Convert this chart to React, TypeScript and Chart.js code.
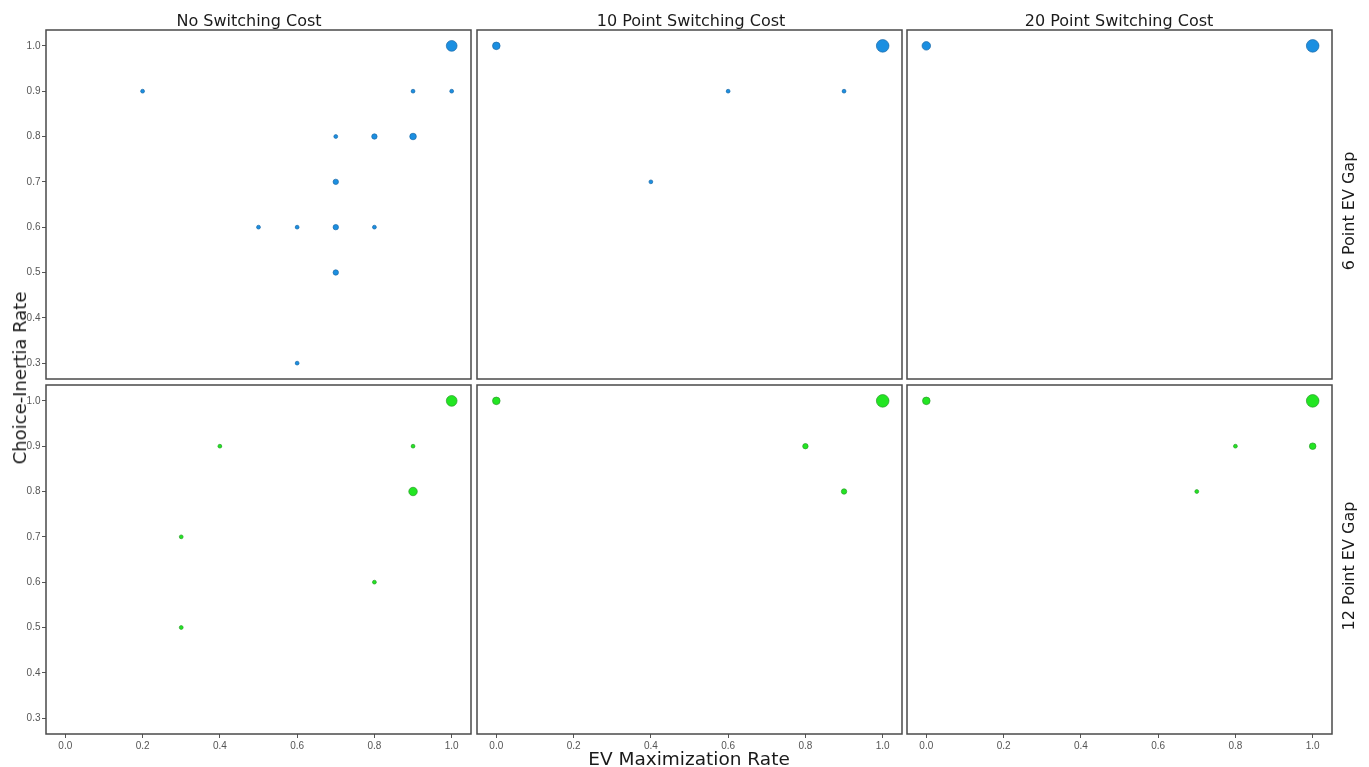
import React, { useEffect, useRef } from "react";
import { Chart, registerables } from "chart.js";

Chart.register(...registerables);

// ---------- labels ----------
const columnLabels = ["No Switching Cost", "10 Point Switching Cost", "20 Point Switching Cost"];
const rowLabels = ["6 Point EV Gap", "12 Point EV Gap"];
const xAxisTitle = "EV Maximization Rate";
const yAxisTitle = "Choice-Inertia Rate";
const xTickValues = [0.0, 0.2, 0.4, 0.6, 0.8, 1.0];
const yTickValues = [0.3, 0.4, 0.5, 0.6, 0.7, 0.8, 0.9, 1.0];

// ---------- data (x = EV maximization rate, y = choice-inertia rate, n = count) ----------
// 6 point EV gap
const noCost6X = [1.0, 0.2, 0.9, 1.0, 0.7, 0.8, 0.9, 0.7, 0.5, 0.6, 0.7, 0.8, 0.7, 0.6];
const noCost6Y = [1.0, 0.9, 0.9, 0.9, 0.8, 0.8, 0.8, 0.7, 0.6, 0.6, 0.6, 0.6, 0.5, 0.3];
const noCost6N = [8, 1, 1, 1, 1, 2, 3, 2, 1, 1, 2, 1, 2, 1];

const cost10Gap6X = [0.0, 1.0, 0.6, 0.9, 0.4];
const cost10Gap6Y = [1.0, 1.0, 0.9, 0.9, 0.7];
const cost10Gap6N = [4, 11, 1, 1, 1];

const cost20Gap6X = [0.0, 1.0];
const cost20Gap6Y = [1.0, 1.0];
const cost20Gap6N = [5, 11];

// 12 point EV gap
const noCost12X = [1.0, 0.4, 0.9, 0.9, 0.3, 0.8, 0.3];
const noCost12Y = [1.0, 0.9, 0.9, 0.8, 0.7, 0.6, 0.5];
const noCost12N = [8, 1, 1, 5, 1, 1, 1];

const cost10Gap12X = [0.0, 1.0, 0.8, 0.9];
const cost10Gap12Y = [1.0, 1.0, 0.9, 0.8];
const cost10Gap12N = [4, 11, 2, 2];

const cost20Gap12X = [0.0, 1.0, 0.8, 1.0, 0.7];
const cost20Gap12Y = [1.0, 1.0, 0.9, 0.9, 0.8];
const cost20Gap12N = [4, 11, 1, 3, 1];

// ---------- layout ----------
const FIG_W = 1369;
const FIG_H = 767;
const COL_LEFT = [46, 477, 907];
const PANEL_W = 425;
const ROW_TOP = [30, 385];
const PANEL_H = 349;
const Y_AXIS_W = 46;
const X_AXIS_H = 33;

const X_MIN = -0.05;
const X_MAX = 1.05;
const Y_MIN = 0.265;
const Y_MAX = 1.035;

const BLUE_FILL = "#1b8fe1";
const BLUE_STROKE = "#1d6aa8";
const GREEN_FILL = "#22e622";
const GREEN_STROKE = "#2b9c2b";
const BORDER_COLOR = "#4a4a4a";
const TICK_COLOR = "#555555";
const TEXT_FONT = "'DejaVu Sans', 'Noto Sans', sans-serif";
const TICK_FONT = "'Liberation Sans', Arial, sans-serif";

type PanelSpec = {
  row: number;
  col: number;
  xs: number[];
  ys: number[];
  ns: number[];
};

const panelSpecs: PanelSpec[] = [
  { row: 0, col: 0, xs: noCost6X, ys: noCost6Y, ns: noCost6N },
  { row: 0, col: 1, xs: cost10Gap6X, ys: cost10Gap6Y, ns: cost10Gap6N },
  { row: 0, col: 2, xs: cost20Gap6X, ys: cost20Gap6Y, ns: cost20Gap6N },
  { row: 1, col: 0, xs: noCost12X, ys: noCost12Y, ns: noCost12N },
  { row: 1, col: 1, xs: cost10Gap12X, ys: cost10Gap12Y, ns: cost10Gap12N },
  { row: 1, col: 2, xs: cost20Gap12X, ys: cost20Gap12Y, ns: cost20Gap12N },
];

const panelBorder = {
  id: "panelBorder",
  afterDraw(chart: any) {
    const { ctx, chartArea: a } = chart;
    ctx.save();
    ctx.strokeStyle = BORDER_COLOR;
    ctx.lineWidth = 1.5;
    ctx.strokeRect(a.left, a.top, a.right - a.left, a.bottom - a.top);
    ctx.restore();
  },
};

function radiusFor(n: number) {
  return 1.9 * Math.sqrt(n);
}

function Panel({ spec }: { spec: PanelSpec }) {
  const ref = useRef<HTMLCanvasElement | null>(null);

  useEffect(() => {
    const { row, col, xs, ys, ns } = spec;
    const showX = row === 1;
    const showY = col === 0;
    const fill = row === 0 ? BLUE_FILL : GREEN_FILL;
    const stroke = row === 0 ? BLUE_STROKE : GREEN_STROKE;
    const panelRight = COL_LEFT[col] + PANEL_W;
    const panelBottom = ROW_TOP[row] + PANEL_H;

    const chart = new Chart(ref.current as HTMLCanvasElement, {
      type: "scatter",
      data: {
        datasets: [
          {
            data: xs.map((x, i) => ({ x, y: ys[i] })),
            pointRadius: ns.map(radiusFor),
            pointHoverRadius: ns.map(radiusFor),
            backgroundColor: fill,
            borderColor: stroke,
            borderWidth: 0.7,
          },
        ],
      },
      options: {
        responsive: false,
        animation: false,
        events: [],
        layout: {
          padding: {
            left: showY ? COL_LEFT[col] - Y_AXIS_W : COL_LEFT[col],
            top: ROW_TOP[row],
            right: FIG_W - panelRight,
            bottom: showX ? FIG_H - panelBottom - X_AXIS_H : FIG_H - panelBottom,
          },
        },
        plugins: {
          legend: { display: false },
          tooltip: { enabled: false },
          title: { display: false },
        },
        scales: {
          x: {
            type: "linear",
            min: X_MIN,
            max: X_MAX,
            display: showX,
            afterBuildTicks: (s: any) => {
              s.ticks = xTickValues.map((v) => ({ value: v }));
            },
            afterFit: (s: any) => {
              s.height = showX ? X_AXIS_H : 0;
            },
            grid: {
              drawOnChartArea: false,
              drawTicks: true,
              tickLength: 4,
              tickColor: TICK_COLOR,
              tickWidth: 1,
            },
            border: { display: false },
            ticks: {
              autoSkip: false,
              maxRotation: 0,
              padding: 3.5,
              color: TICK_COLOR,
              font: { family: TICK_FONT, size: 10, lineHeight: 1 },
              callback: (v: any) => Number(v).toFixed(1),
            },
          },
          y: {
            type: "linear",
            min: Y_MIN,
            max: Y_MAX,
            display: showY,
            afterBuildTicks: (s: any) => {
              s.ticks = yTickValues.map((v) => ({ value: v }));
            },
            afterFit: (s: any) => {
              s.width = showY ? Y_AXIS_W : 0;
            },
            grid: {
              drawOnChartArea: false,
              drawTicks: true,
              tickLength: 4,
              tickColor: TICK_COLOR,
              tickWidth: 1,
            },
            border: { display: false },
            ticks: {
              autoSkip: false,
              padding: 1.5,
              color: TICK_COLOR,
              font: { family: TICK_FONT, size: 10, lineHeight: 1 },
              callback: (v: any) => Number(v).toFixed(1),
            },
          },
        },
      },
      plugins: [panelBorder],
    } as any);

    return () => chart.destroy();
  }, [spec]);

  return (
    <canvas
      ref={ref}
      width={FIG_W}
      height={FIG_H}
      style={{ position: "absolute", left: 0, top: 0, width: FIG_W, height: FIG_H }}
    />
  );
}

const colLabelCenters = [249, 691, 1119];
const rowLabelCenters = [211, 566];

export default function App() {
  const textBase: React.CSSProperties = {
    position: "absolute",
    fontFamily: TEXT_FONT,
    color: "#1a1a1a",
    whiteSpace: "nowrap",
    lineHeight: "20px",
  };
  return (
    <div
      style={{
        position: "absolute",
        left: 0,
        top: 0,
        width: FIG_W,
        height: FIG_H,
        background: "#ffffff",
        overflow: "hidden",
      }}
    >
      {panelSpecs.map((spec) => (
        <Panel key={`${spec.row}-${spec.col}`} spec={spec} />
      ))}
      {columnLabels.map((label, i) => (
        <div
          key={label}
          style={{
            ...textBase,
            fontSize: 16,
            left: colLabelCenters[i],
            top: 11,
            transform: "translateX(-50%)",
          }}
        >
          {label}
        </div>
      ))}
      {rowLabels.map((label, i) => (
        <div
          key={label}
          style={{
            ...textBase,
            fontSize: 16,
            left: 1349,
            top: rowLabelCenters[i],
            transform: "translate(-50%, -50%) rotate(-90deg)",
          }}
        >
          {label}
        </div>
      ))}
      <div
        style={{
          ...textBase,
          fontSize: 18.5,
          left: 689,
          top: 749,
          transform: "translateX(-50%)",
        }}
      >
        {xAxisTitle}
      </div>
      <div
        style={{
          ...textBase,
          fontSize: 18,
          left: 20,
          top: 378,
          transform: "translate(-50%, -50%) rotate(-90deg)",
        }}
      >
        {yAxisTitle}
      </div>
    </div>
  );
}
